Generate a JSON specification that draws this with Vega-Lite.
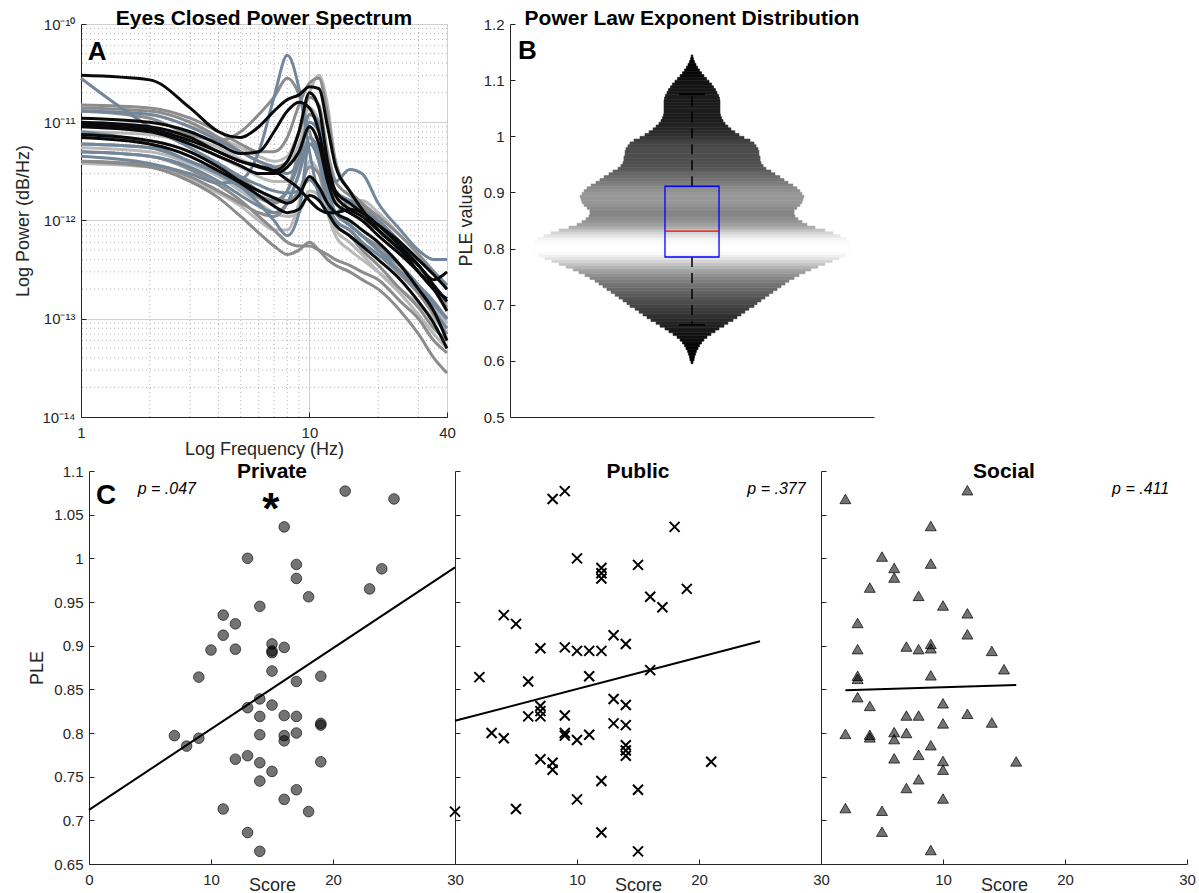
{
"$schema": "https://vega.github.io/schema/vega-lite/v6.json",
"padding": {"left": 13, "top": 7, "right": 0, "bottom": 0},
"spacing": 447,
"bounds": "flush",
"config": {
  "view": {"stroke": null},
  "font": "Liberation Sans",
  "axis": {"domainColor": "#262626", "tickColor": "#262626", "labelColor": "#262626", "titleColor": "#262626", "labelFontSize": 15, "titleFontSize": 18, "titleFontWeight": "normal", "labelFont": "Liberation Sans", "titleFont": "Liberation Sans", "grid": false, "tickSize": -5, "labelFlush": false},
  "axisX": {"labelPadding": 13},
  "axisY": {"labelPadding": 11},
  "text": {"font": "Liberation Sans", "color": "#000000"}
},
"datasets": {
  "minorF": [{"f":2},{"f":3},{"f":4},{"f":5},{"f":6},{"f":7},{"f":8},{"f":9},{"f":20},{"f":30}],
  "minorP": [{"p":2e-14},{"p":3e-14},{"p":4e-14},{"p":5e-14},{"p":6e-14},{"p":7e-14},{"p":8e-14},{"p":9e-14},
             {"p":2e-13},{"p":3e-13},{"p":4e-13},{"p":5e-13},{"p":6e-13},{"p":7e-13},{"p":8e-13},{"p":9e-13},
             {"p":2e-12},{"p":3e-12},{"p":4e-12},{"p":5e-12},{"p":6e-12},{"p":7e-12},{"p":8e-12},{"p":9e-12},
             {"p":2e-11},{"p":3e-11},{"p":4e-11},{"p":5e-11},{"p":6e-11},{"p":7e-11},{"p":8e-11},{"p":9e-11}],
  "spectra": [
    {"s":"l1","f":[1,2,3,4,5,6,7,8,9,10,11,12,13,15,17,20,25,30,35,40],"p":[9e-12,8e-12,6e-12,4.5e-12,3.5e-12,3e-12,3e-12,4e-12,8e-12,20e-12,30e-12,15e-12,4e-12,2e-12,1.4e-12,1e-12,0.6e-12,0.35e-12,0.2e-12,0.12e-12]},
    {"s":"l2","f":[1,2,3,4,5,6,7,8,9,10,11,12,13,15,17,20,25,30,35,40],"p":[13e-12,12e-12,9e-12,7e-12,5.5e-12,4.5e-12,4e-12,4.5e-12,8e-12,14e-12,10e-12,3e-12,1.8e-12,1.4e-12,1.2e-12,0.9e-12,0.5e-12,0.3e-12,0.2e-12,0.14e-12]},
    {"s":"l3","f":[1,2,3,4,5,6,7,8,9,10,11,12,13,15,17,20,25,30,35,40],"p":[5.5e-12,5e-12,3.8e-12,2.8e-12,2e-12,1.5e-12,1.2e-12,1.1e-12,1.2e-12,2e-12,1.8e-12,1.2e-12,0.8e-12,0.6e-12,0.45e-12,0.3e-12,0.18e-12,0.11e-12,0.07e-12,0.05e-12]},
    {"s":"l4","f":[1,2,3,4,5,6,7,8,9,10,11,12,13,15,17,20,25,30,35,40],"p":[3.8e-12,3.5e-12,2.6e-12,1.9e-12,1.4e-12,1e-12,0.8e-12,0.8e-12,1.5e-12,4e-12,3e-12,1.2e-12,0.7e-12,0.5e-12,0.4e-12,0.3e-12,0.2e-12,0.14e-12,0.1e-12,0.07e-12]},
    {"s":"l5","f":[1,2,3,4,5,6,7,8,9,10,11,12,13,15,17,20,25,30,35,40],"p":[10e-12,9e-12,7e-12,5.5e-12,4.2e-12,3.5e-12,3.2e-12,3.5e-12,6e-12,12e-12,9e-12,3e-12,1.6e-12,1.5e-12,1.6e-12,1.2e-12,0.7e-12,0.45e-12,0.3e-12,0.2e-12]},
    {"s":"l6","f":[1,2,3,4,5,6,7,8,9,10,11,12,13,15,17,20,25,30,35,40],"p":[8e-12,7.5e-12,6e-12,4.5e-12,3.5e-12,2.8e-12,2.5e-12,2.5e-12,3.5e-12,6e-12,5e-12,2.2e-12,1.2e-12,0.9e-12,0.7e-12,0.5e-12,0.32e-12,0.2e-12,0.13e-12,0.09e-12]},
    {"s":"g1","f":[1,2,3,4,5,6,7,8,9,10,11,12,13,15,17,20,25,30,35,40],"p":[13e-12,11e-12,7.5e-12,6.5e-12,8e-12,12e-12,18e-12,28e-12,19e-12,8e-12,4e-12,2e-12,1.5e-12,1.2e-12,1e-12,0.8e-12,0.5e-12,0.3e-12,0.2e-12,0.13e-12]},
    {"s":"g2","f":[1,2,3,4,5,6,7,8,9,10,11,12,13,15,17,20,25,30,35,40],"p":[4e-12,3.5e-12,2.5e-12,1.7e-12,1.1e-12,0.75e-12,0.55e-12,0.45e-12,0.5e-12,0.6e-12,0.5e-12,0.4e-12,0.35e-12,0.3e-12,0.25e-12,0.2e-12,0.12e-12,0.07e-12,0.04e-12,0.028e-12]},
    {"s":"g3","f":[1,2,3,4,5,6,7,8,9,10,11,12,13,15,17,20,25,30,35,40],"p":[5e-12,4.5e-12,3.3e-12,2.3e-12,1.6e-12,1.1e-12,0.8e-12,0.6e-12,0.55e-12,0.55e-12,0.5e-12,0.45e-12,0.4e-12,0.35e-12,0.3e-12,0.25e-12,0.15e-12,0.1e-12,0.06e-12,0.045e-12]},
    {"s":"g4","f":[1,2,3,4,5,6,7,8,9,10,11,12,13,15,17,20,25,30,35,40],"p":[14e-12,13e-12,10e-12,7e-12,5e-12,4e-12,3.5e-12,4e-12,8e-12,18e-12,15e-12,5e-12,2.5e-12,1.8e-12,1.4e-12,1e-12,0.6e-12,0.35e-12,0.22e-12,0.15e-12]},
    {"s":"g5","f":[1,2,3,4,5,6,7,8,9,10,11,12,13,15,17,20,25,30,35,40],"p":[4e-12,3.7e-12,2.8e-12,2e-12,1.5e-12,1.2e-12,1.1e-12,1.5e-12,3e-12,6e-12,4e-12,1.5e-12,0.9e-12,0.7e-12,0.5e-12,0.35e-12,0.2e-12,0.13e-12,0.08e-12,0.06e-12]},
    {"s":"g6","f":[1,2,3,4,5,6,7,8,9,10,11,12,13,15,17,20,25,30,35,40],"p":[6e-12,5.5e-12,4e-12,3e-12,2.2e-12,1.7e-12,1.5e-12,2e-12,5e-12,9e-12,6e-12,2e-12,1.2e-12,0.9e-12,0.7e-12,0.55e-12,0.35e-12,0.22e-12,0.14e-12,0.1e-12]},
    {"s":"g7","f":[1,2,3,4,5,6,7,8,9,10,11,12,13,15,17,20,25,30,35,40],"p":[15e-12,14e-12,11e-12,8e-12,6e-12,5e-12,5e-12,7e-12,15e-12,25e-12,28e-12,12e-12,4e-12,2e-12,1.5e-12,1.1e-12,0.7e-12,0.45e-12,0.3e-12,0.2e-12]},
    {"s":"g8","f":[1,2,3,4,5,6,7,8,9,10,11,12,13,15,17,20,25,30,35,40],"p":[7e-12,6.5e-12,5e-12,3.6e-12,2.7e-12,2e-12,1.7e-12,1.6e-12,2e-12,3.5e-12,3e-12,1.5e-12,1e-12,0.8e-12,0.6e-12,0.45e-12,0.28e-12,0.18e-12,0.11e-12,0.07e-12]},
    {"s":"b1","f":[1,2,3,4,5,6,7,8,9,10,11,12,13,15,17,20,25,30,35,40],"p":[28e-12,9e-12,5.5e-12,3.8e-12,2.8e-12,2.3e-12,2e-12,1.9e-12,2e-12,2.6e-12,2e-12,1.5e-12,1.2e-12,0.9e-12,0.7e-12,0.5e-12,0.35e-12,0.22e-12,0.15e-12,0.1e-12]},
    {"s":"b2","f":[1,2,3,4,5,6,7,8,9,10,11,12,13,15,17,20,25,30,35,40],"p":[4.5e-12,3.8e-12,3e-12,2.4e-12,2.6e-12,5e-12,18e-12,48e-12,22e-12,5e-12,1.8e-12,1.2e-12,1.2e-12,1.6e-12,1.3e-12,0.8e-12,0.5e-12,0.3e-12,0.2e-12,0.15e-12]},
    {"s":"b3","f":[1,2,3,4,5,6,7,8,9,10,11,12,13,15,17,20,25,30,35,40],"p":[8e-12,6e-12,4e-12,3e-12,2.2e-12,1.8e-12,1.6e-12,2e-12,4e-12,10e-12,8e-12,3.5e-12,2.5e-12,3.3e-12,3e-12,1.5e-12,0.8e-12,0.5e-12,0.4e-12,0.4e-12]},
    {"s":"b4","f":[1,2,3,4,5,6,7,8,9,10,11,12,13,15,17,20,25,30,35,40],"p":[6e-12,5.5e-12,4e-12,3e-12,2.2e-12,1.5e-12,1e-12,0.7e-12,1.2e-12,6e-12,4e-12,1.5e-12,1e-12,0.8e-12,0.6e-12,0.45e-12,0.3e-12,0.2e-12,0.12e-12,0.08e-12]},
    {"s":"b5","f":[1,2,3,4,5,6,7,8,9,10,11,12,13,15,17,20,25,30,35,40],"p":[13e-12,12e-12,9e-12,6.5e-12,5e-12,4e-12,3.5e-12,3e-12,4e-12,12e-12,10e-12,3e-12,2e-12,1.6e-12,1.3e-12,1e-12,0.6e-12,0.4e-12,0.3e-12,0.22e-12]},
    {"s":"b6","f":[1,2,3,4,5,6,7,8,9,10,11,12,13,15,17,20,25,30,35,40],"p":[5e-12,4.5e-12,3.5e-12,2.5e-12,1.8e-12,1.4e-12,1.2e-12,1.5e-12,3e-12,7e-12,5e-12,2e-12,1.2e-12,0.9e-12,0.7e-12,0.5e-12,0.3e-12,0.2e-12,0.14e-12,0.1e-12]},
    {"s":"k1","f":[1,2,3,4,5,6,7,8,9,10,11,12,13,15,17,20,25,30,35,40],"p":[30e-12,27e-12,14e-12,8e-12,7e-12,9e-12,13e-12,17e-12,19e-12,23e-12,22e-12,9e-12,3.6e-12,2e-12,1.3e-12,0.8e-12,0.5e-12,0.3e-12,0.2e-12,0.16e-12]},
    {"s":"k2","f":[1,2,3,4,5,6,7,8,9,10,11,12,13,15,17,20,25,30,35,40],"p":[9e-12,8e-12,6e-12,4.5e-12,3.6e-12,3e-12,3e-12,3.5e-12,5e-12,9e-12,6e-12,2.5e-12,1.5e-12,1.2e-12,1e-12,0.7e-12,0.45e-12,0.3e-12,0.2e-12,0.12e-12]},
    {"s":"k3","f":[1,2,3,4,5,6,7,8,9,10,11,12,13,15,17,20,25,30,35,40],"p":[7.5e-12,6.5e-12,5e-12,3.5e-12,2.5e-12,2e-12,1.7e-12,1.5e-12,1.8e-12,2.8e-12,2.2e-12,1.5e-12,1.2e-12,1e-12,0.8e-12,0.6e-12,0.35e-12,0.2e-12,0.12e-12,0.06e-12]},
    {"s":"k4","f":[1,2,3,4,5,6,7,8,9,10,11,12,13,15,17,20,25,30,35,40],"p":[11e-12,10e-12,8e-12,6e-12,4.8e-12,5e-12,8e-12,13e-12,16e-12,14e-12,8e-12,3e-12,1.8e-12,1.3e-12,1.1e-12,0.8e-12,0.5e-12,0.35e-12,0.25e-12,0.3e-12]},
    {"s":"k5","f":[1,2,3,4,5,6,7,8,9,10,11,12,13,15,17,20,25,30,35,40],"p":[9.5e-12,8.5e-12,6.5e-12,5e-12,4e-12,3.6e-12,3.2e-12,2.6e-12,2.1e-12,1.6e-12,1.3e-12,1.2e-12,1.2e-12,1.3e-12,1.2e-12,0.9e-12,0.55e-12,0.35e-12,0.22e-12,0.15e-12]},
    {"s":"k6","f":[1,2,3,4,5,6,7,8,9,10,11,12,13,15,17,20,25,30,35,40],"p":[7e-12,6e-12,4.5e-12,3.2e-12,2.4e-12,1.8e-12,1.4e-12,1.2e-12,1.3e-12,1.8e-12,1.6e-12,1.2e-12,0.9e-12,0.7e-12,0.55e-12,0.4e-12,0.25e-12,0.15e-12,0.09e-12,0.05e-12]},
    {"s":"k7","f":[1,2,3,4,5,6,7,8,9,10,11,12,13,15,17,20,25,30,35,40],"p":[10e-12,9e-12,7e-12,5e-12,4e-12,3.5e-12,3.2e-12,4e-12,8e-12,20e-12,14e-12,4e-12,2e-12,1.5e-12,1.2e-12,0.9e-12,0.6e-12,0.4e-12,0.28e-12,0.2e-12]}
  ],
  "violin": [
    {"a":0.595,"b":0.600,"lo":-0.006,"hi":0.006},{"a":0.600,"b":0.605,"lo":-0.013,"hi":0.013},{"a":0.605,"b":0.610,"lo":-0.016,"hi":0.016},{"a":0.610,"b":0.615,"lo":-0.022,"hi":0.022},
    {"a":0.615,"b":0.620,"lo":-0.028,"hi":0.028},{"a":0.620,"b":0.625,"lo":-0.038,"hi":0.038},{"a":0.625,"b":0.630,"lo":-0.047,"hi":0.047},{"a":0.630,"b":0.635,"lo":-0.060,"hi":0.060},
    {"a":0.635,"b":0.640,"lo":-0.075,"hi":0.075},{"a":0.640,"b":0.645,"lo":-0.094,"hi":0.094},{"a":0.645,"b":0.650,"lo":-0.119,"hi":0.119},{"a":0.650,"b":0.655,"lo":-0.145,"hi":0.145},
    {"a":0.655,"b":0.660,"lo":-0.170,"hi":0.170},{"a":0.660,"b":0.665,"lo":-0.201,"hi":0.201},{"a":0.665,"b":0.670,"lo":-0.226,"hi":0.226},{"a":0.670,"b":0.675,"lo":-0.258,"hi":0.258},
    {"a":0.675,"b":0.680,"lo":-0.283,"hi":0.283},{"a":0.680,"b":0.685,"lo":-0.308,"hi":0.308},{"a":0.685,"b":0.690,"lo":-0.333,"hi":0.333},{"a":0.690,"b":0.695,"lo":-0.358,"hi":0.358},
    {"a":0.695,"b":0.700,"lo":-0.390,"hi":0.390},{"a":0.700,"b":0.705,"lo":-0.409,"hi":0.409},{"a":0.705,"b":0.710,"lo":-0.434,"hi":0.434},{"a":0.710,"b":0.715,"lo":-0.459,"hi":0.459},
    {"a":0.715,"b":0.720,"lo":-0.484,"hi":0.484},{"a":0.720,"b":0.725,"lo":-0.509,"hi":0.509},{"a":0.725,"b":0.730,"lo":-0.535,"hi":0.535},{"a":0.730,"b":0.735,"lo":-0.560,"hi":0.560},
    {"a":0.735,"b":0.740,"lo":-0.585,"hi":0.585},{"a":0.740,"b":0.745,"lo":-0.610,"hi":0.610},{"a":0.745,"b":0.750,"lo":-0.642,"hi":0.642},{"a":0.750,"b":0.755,"lo":-0.673,"hi":0.673},
    {"a":0.755,"b":0.760,"lo":-0.711,"hi":0.711},{"a":0.760,"b":0.765,"lo":-0.748,"hi":0.748},{"a":0.765,"b":0.770,"lo":-0.792,"hi":0.792},{"a":0.770,"b":0.775,"lo":-0.836,"hi":0.836},
    {"a":0.775,"b":0.780,"lo":-0.881,"hi":0.881},{"a":0.780,"b":0.785,"lo":-0.925,"hi":0.925},{"a":0.785,"b":0.790,"lo":-0.962,"hi":0.962},{"a":0.790,"b":0.795,"lo":-0.987,"hi":0.987},
    {"a":0.795,"b":0.800,"lo":-1.0,"hi":1.0},{"a":0.800,"b":0.805,"lo":-1.0,"hi":1.0},{"a":0.805,"b":0.810,"lo":-0.994,"hi":0.994},{"a":0.810,"b":0.815,"lo":-0.987,"hi":0.987},
    {"a":0.815,"b":0.820,"lo":-0.969,"hi":0.969},{"a":0.820,"b":0.825,"lo":-0.931,"hi":0.931},{"a":0.825,"b":0.830,"lo":-0.887,"hi":0.887},{"a":0.830,"b":0.835,"lo":-0.836,"hi":0.836},
    {"a":0.835,"b":0.840,"lo":-0.774,"hi":0.774},{"a":0.840,"b":0.845,"lo":-0.723,"hi":0.723},{"a":0.845,"b":0.850,"lo":-0.692,"hi":0.692},{"a":0.850,"b":0.855,"lo":-0.667,"hi":0.667},
    {"a":0.855,"b":0.860,"lo":-0.648,"hi":0.648},{"a":0.860,"b":0.865,"lo":-0.642,"hi":0.642},{"a":0.865,"b":0.870,"lo":-0.642,"hi":0.642},{"a":0.870,"b":0.875,"lo":-0.660,"hi":0.660},
    {"a":0.875,"b":0.880,"lo":-0.679,"hi":0.679},{"a":0.880,"b":0.885,"lo":-0.692,"hi":0.692},{"a":0.885,"b":0.890,"lo":-0.698,"hi":0.698},{"a":0.890,"b":0.895,"lo":-0.704,"hi":0.704},
    {"a":0.895,"b":0.900,"lo":-0.692,"hi":0.692},{"a":0.900,"b":0.905,"lo":-0.679,"hi":0.679},{"a":0.905,"b":0.910,"lo":-0.660,"hi":0.660},{"a":0.910,"b":0.915,"lo":-0.635,"hi":0.635},
    {"a":0.915,"b":0.920,"lo":-0.604,"hi":0.604},{"a":0.920,"b":0.925,"lo":-0.579,"hi":0.579},{"a":0.925,"b":0.930,"lo":-0.553,"hi":0.553},{"a":0.930,"b":0.935,"lo":-0.522,"hi":0.522},
    {"a":0.935,"b":0.940,"lo":-0.497,"hi":0.497},{"a":0.940,"b":0.945,"lo":-0.465,"hi":0.465},{"a":0.945,"b":0.950,"lo":-0.447,"hi":0.447},{"a":0.950,"b":0.955,"lo":-0.434,"hi":0.434},
    {"a":0.955,"b":0.960,"lo":-0.428,"hi":0.428},{"a":0.960,"b":0.965,"lo":-0.428,"hi":0.428},{"a":0.965,"b":0.970,"lo":-0.421,"hi":0.421},{"a":0.970,"b":0.975,"lo":-0.421,"hi":0.421},
    {"a":0.975,"b":0.980,"lo":-0.415,"hi":0.415},{"a":0.980,"b":0.985,"lo":-0.403,"hi":0.403},{"a":0.985,"b":0.990,"lo":-0.390,"hi":0.390},{"a":0.990,"b":0.995,"lo":-0.365,"hi":0.365},
    {"a":0.995,"b":1.000,"lo":-0.327,"hi":0.327},{"a":1.000,"b":1.005,"lo":-0.296,"hi":0.296},{"a":1.005,"b":1.010,"lo":-0.270,"hi":0.270},{"a":1.010,"b":1.015,"lo":-0.245,"hi":0.245},
    {"a":1.015,"b":1.020,"lo":-0.226,"hi":0.226},{"a":1.020,"b":1.025,"lo":-0.208,"hi":0.208},{"a":1.025,"b":1.030,"lo":-0.195,"hi":0.195},{"a":1.030,"b":1.035,"lo":-0.186,"hi":0.186},
    {"a":1.035,"b":1.040,"lo":-0.179,"hi":0.179},{"a":1.040,"b":1.045,"lo":-0.176,"hi":0.176},{"a":1.045,"b":1.050,"lo":-0.176,"hi":0.176},{"a":1.050,"b":1.055,"lo":-0.176,"hi":0.176},
    {"a":1.055,"b":1.060,"lo":-0.176,"hi":0.176},{"a":1.060,"b":1.065,"lo":-0.176,"hi":0.176},{"a":1.065,"b":1.070,"lo":-0.173,"hi":0.173},{"a":1.070,"b":1.075,"lo":-0.167,"hi":0.167},
    {"a":1.075,"b":1.080,"lo":-0.157,"hi":0.157},{"a":1.080,"b":1.085,"lo":-0.148,"hi":0.148},{"a":1.085,"b":1.090,"lo":-0.135,"hi":0.135},{"a":1.090,"b":1.095,"lo":-0.123,"hi":0.123},
    {"a":1.095,"b":1.100,"lo":-0.107,"hi":0.107},{"a":1.100,"b":1.105,"lo":-0.091,"hi":0.091},{"a":1.105,"b":1.110,"lo":-0.075,"hi":0.075},{"a":1.110,"b":1.115,"lo":-0.060,"hi":0.060},
    {"a":1.115,"b":1.120,"lo":-0.047,"hi":0.047},{"a":1.120,"b":1.125,"lo":-0.035,"hi":0.035},{"a":1.125,"b":1.130,"lo":-0.025,"hi":0.025},{"a":1.130,"b":1.135,"lo":-0.016,"hi":0.016},
    {"a":1.135,"b":1.140,"lo":-0.009,"hi":0.009},{"a":1.140,"b":1.145,"lo":-0.005,"hi":0.005}
  ],
  "box": [{"q1":0.785,"q3":0.911,"med":0.831,"wlo":0.664,"whi":1.075}],
  "priv": [
    {"score":21,"ple":1.077},{"score":25,"ple":1.068},{"score":16,"ple":1.036},{"score":13,"ple":1.0},{"score":17,"ple":0.993},{"score":17,"ple":0.977},
    {"score":24,"ple":0.988},{"score":23,"ple":0.965},{"score":18,"ple":0.956},{"score":14,"ple":0.945},{"score":11,"ple":0.935},{"score":12,"ple":0.925},
    {"score":11,"ple":0.912},{"score":10,"ple":0.895},{"score":12,"ple":0.896},{"score":15,"ple":0.902},{"score":15,"ple":0.894},{"score":15,"ple":0.892},
    {"score":16,"ple":0.898},{"score":9,"ple":0.864},{"score":15,"ple":0.871},{"score":19,"ple":0.865},{"score":17,"ple":0.859},{"score":14,"ple":0.839},
    {"score":15,"ple":0.832},{"score":13,"ple":0.829},{"score":14,"ple":0.819},{"score":16,"ple":0.820},{"score":17,"ple":0.819},{"score":19,"ple":0.811},
    {"score":19,"ple":0.809},{"score":7,"ple":0.797},{"score":8,"ple":0.785},{"score":9,"ple":0.794},{"score":14,"ple":0.798},{"score":16,"ple":0.797},
    {"score":16,"ple":0.791},{"score":17,"ple":0.800},{"score":12,"ple":0.770},{"score":13,"ple":0.774},{"score":14,"ple":0.766},{"score":15,"ple":0.756},
    {"score":19,"ple":0.767},{"score":14,"ple":0.745},{"score":17,"ple":0.735},{"score":16,"ple":0.724},{"score":11,"ple":0.713},{"score":18,"ple":0.710},
    {"score":13,"ple":0.686},{"score":14,"ple":0.6645}
  ],
  "pub": [
    {"score":8,"ple":1.068},{"score":9,"ple":1.077},{"score":18,"ple":1.036},{"score":10,"ple":1.0},{"score":12,"ple":0.989},{"score":12,"ple":0.983},
    {"score":12,"ple":0.977},{"score":15,"ple":0.9925},{"score":19,"ple":0.965},{"score":16,"ple":0.956},{"score":17,"ple":0.944},{"score":4,"ple":0.935},
    {"score":5,"ple":0.925},{"score":13,"ple":0.912},{"score":7,"ple":0.897},{"score":9,"ple":0.898},{"score":10,"ple":0.894},{"score":11,"ple":0.894},
    {"score":12,"ple":0.894},{"score":14,"ple":0.902},{"score":2,"ple":0.864},{"score":6,"ple":0.859},{"score":11,"ple":0.865},{"score":16,"ple":0.872},
    {"score":7,"ple":0.831},{"score":7,"ple":0.825},{"score":7,"ple":0.819},{"score":6,"ple":0.819},{"score":9,"ple":0.820},{"score":13,"ple":0.839},
    {"score":14,"ple":0.832},{"score":13,"ple":0.811},{"score":14,"ple":0.809},{"score":3,"ple":0.800},{"score":4,"ple":0.794},{"score":9,"ple":0.800},
    {"score":9,"ple":0.797},{"score":10,"ple":0.792},{"score":11,"ple":0.798},{"score":14,"ple":0.786},{"score":14,"ple":0.780},{"score":14,"ple":0.774},
    {"score":7,"ple":0.770},{"score":8,"ple":0.766},{"score":8,"ple":0.758},{"score":21,"ple":0.767},{"score":12,"ple":0.745},{"score":15,"ple":0.735},
    {"score":10,"ple":0.724},{"score":5,"ple":0.713},{"score":0,"ple":0.710},{"score":12,"ple":0.686},{"score":15,"ple":0.6645}
  ],
  "soc": [
    {"score":2,"ple":1.068},{"score":12,"ple":1.078},{"score":9,"ple":1.037},{"score":5,"ple":1.002},{"score":9,"ple":0.994},{"score":6,"ple":0.989},
    {"score":6,"ple":0.978},{"score":4,"ple":0.9665},{"score":8,"ple":0.957},{"score":10,"ple":0.946},{"score":12,"ple":0.937},{"score":3,"ple":0.926},
    {"score":12,"ple":0.913},{"score":3,"ple":0.896},{"score":7,"ple":0.899},{"score":8,"ple":0.896},{"score":9,"ple":0.902},{"score":9,"ple":0.897},
    {"score":14,"ple":0.894},{"score":15,"ple":0.873},{"score":3,"ple":0.8655},{"score":3,"ple":0.862},{"score":9,"ple":0.866},{"score":3,"ple":0.841},
    {"score":4,"ple":0.831},{"score":10,"ple":0.834},{"score":7,"ple":0.820},{"score":8,"ple":0.820},{"score":12,"ple":0.822},{"score":10,"ple":0.811},
    {"score":14,"ple":0.812},{"score":2,"ple":0.799},{"score":4,"ple":0.798},{"score":4,"ple":0.795},{"score":6,"ple":0.801},{"score":6,"ple":0.793},
    {"score":7,"ple":0.800},{"score":9,"ple":0.786},{"score":6,"ple":0.771},{"score":8,"ple":0.775},{"score":10,"ple":0.768},{"score":10,"ple":0.758},
    {"score":16,"ple":0.7675},{"score":8,"ple":0.747},{"score":7,"ple":0.737},{"score":10,"ple":0.725},{"score":2,"ple":0.714},{"score":5,"ple":0.711},
    {"score":5,"ple":0.687},{"score":9,"ple":0.666}
  ],
  "privFit": [{"score":0,"ple":0.712},{"score":30,"ple":0.9897}],
  "pubFit": [{"score":0,"ple":0.814},{"score":25,"ple":0.905}],
  "socFit": [{"score":2,"ple":0.849},{"score":16,"ple":0.855}]
},
"vconcat": [
 {
  "hconcat": [
  {
    "width": 366, "height": 393,
    "view": {"stroke": "#d4d4d4"},
    "layer": [
      {"data": {"name": "minorF"}, "mark": {"type": "rule", "color": "#b5b5b5", "strokeDash": [1, 3], "strokeWidth": 1},
       "encoding": {"x": {"field": "f", "type": "quantitative", "scale": {"type": "log", "domain": [1, 40], "nice": false}}}},
      {"data": {"name": "minorP"}, "mark": {"type": "rule", "color": "#b5b5b5", "strokeDash": [1, 3], "strokeWidth": 1},
       "encoding": {"y": {"field": "p", "type": "quantitative", "scale": {"type": "log", "domain": [1e-14, 1e-10], "nice": false}}}},
      {"data": {"name": "spectra"}, "transform": [{"flatten": ["f", "p"]}],
       "mark": {"type": "line", "strokeWidth": 3, "interpolate": "monotone"},
       "encoding": {
         "x": {"field": "f", "type": "quantitative", "scale": {"type": "log", "domain": [1, 40], "nice": false},
               "axis": {"title": "Log Frequency (Hz)", "values": [1, 10, 40], "format": "d", "grid": true, "gridColor": "#d0d0d0", "titleX": 183, "titleY": 37, "titleBaseline": "alphabetic"}},
         "y": {"field": "p", "type": "quantitative", "scale": {"type": "log", "domain": [1e-14, 1e-10], "nice": false},
               "axis": {"title": "Log Power (dB/Hz)", "values": [1e-14, 1e-13, 1e-12, 1e-11, 1e-10], "grid": true, "gridColor": "#d0d0d0",
                        "labelExpr": "'10' + (round(log(datum.value)/LN10) == -10 ? '⁻¹⁰' : round(log(datum.value)/LN10) == -11 ? '⁻¹¹' : round(log(datum.value)/LN10) == -12 ? '⁻¹²' : round(log(datum.value)/LN10) == -13 ? '⁻¹³' : '⁻¹⁴')",
                        "titleX": -58, "titleY": 196.5, "titleBaseline": "middle"}},
         "color": {"field": "s", "type": "nominal", "legend": null,
                   "scale": {"domain": ["l1","l2","l3","l4","l5","l6","g1","g2","g3","g4","g5","g6","g7","g8","b1","b2","b3","b4","b5","b6","k1","k2","k3","k4","k5","k6","k7"],
                             "range": ["#b8b8b8","#b8b8b8","#b8b8b8","#b8b8b8","#b8b8b8","#b8b8b8","#8c8c8c","#8c8c8c","#8c8c8c","#8c8c8c","#8c8c8c","#8c8c8c","#8c8c8c","#8c8c8c","#72879b","#72879b","#72879b","#72879b","#72879b","#72879b","#0a0a0a","#0a0a0a","#0a0a0a","#0a0a0a","#0a0a0a","#0a0a0a","#0a0a0a"]}}
       }},
      {"data": {"values": [{"f": 6.325, "p": 1e-10, "t": "Eyes Closed Power Spectrum"}]},
       "mark": {"type": "text", "fontWeight": "bold", "fontSize": 21, "baseline": "alphabetic", "align": "center", "dy": 1},
       "encoding": {"x": {"field": "f", "type": "quantitative", "scale": {"type": "log", "domain": [1, 40], "nice": false}},
                    "y": {"field": "p", "type": "quantitative", "scale": {"type": "log", "domain": [1e-14, 1e-10], "nice": false}},
                    "text": {"field": "t"}}},
      {"data": {"values": [{"f": 1.07, "p": 4.3e-11, "t": "A"}]},
       "mark": {"type": "text", "fontWeight": "bold", "fontSize": 26, "baseline": "alphabetic", "align": "left"},
       "encoding": {"x": {"field": "f", "type": "quantitative", "scale": {"type": "log", "domain": [1, 40], "nice": false}},
                    "y": {"field": "p", "type": "quantitative", "scale": {"type": "log", "domain": [1e-14, 1e-10], "nice": false}},
                    "text": {"field": "t"}}}
    ]
  },
  {"width": 63, "height": 393, "data": {"values": []}, "mark": "point"},
  {
    "width": 364, "height": 393,
    "layer": [
      {"data": {"name": "violin"}, "mark": {"type": "rect", "strokeWidth": 0.6},
       "encoding": {
         "y": {"field": "a", "type": "quantitative", "scale": {"domain": [0.5, 1.2], "nice": false, "zero": false},
               "axis": {"title": "PLE values", "values": [0.5, 0.6, 0.7, 0.8, 0.9, 1.0, 1.1, 1.2], "format": "~g", "titleX": -44, "titleY": 196.5, "titleBaseline": "middle"}},
         "y2": {"field": "b"},
         "x": {"field": "lo", "type": "quantitative", "scale": {"domain": [-1.145, 1.145], "nice": false, "zero": false},
               "axis": {"title": null, "labels": false, "ticks": false, "domain": true}},
         "x2": {"field": "hi"},
         "fill": {"field": "hi", "type": "quantitative", "legend": null, "scale": {"type": "pow", "exponent": 1.3, "domain": [0, 1], "range": ["#000000", "#ffffff"]}},
         "stroke": {"field": "hi", "type": "quantitative", "legend": null, "scale": {"type": "pow", "exponent": 1.3, "domain": [0, 1], "range": ["#000000", "#ffffff"]}}
       }},
      {"data": {"name": "box"}, "mark": {"type": "rule", "color": "#000000", "strokeWidth": 1.5, "strokeDash": [10, 6]},
       "encoding": {"x": {"datum": 0, "type": "quantitative", "scale": {"domain": [-1.145, 1.145], "nice": false, "zero": false}},
                    "y": {"field": "q3", "type": "quantitative", "scale": {"domain": [0.5, 1.2], "nice": false, "zero": false}},
                    "y2": {"field": "whi"}}},
      {"data": {"name": "box"}, "mark": {"type": "rule", "color": "#000000", "strokeWidth": 1.5, "strokeDash": [10, 6]},
       "encoding": {"x": {"datum": 0, "type": "quantitative", "scale": {"domain": [-1.145, 1.145], "nice": false, "zero": false}},
                    "y": {"field": "q1", "type": "quantitative", "scale": {"domain": [0.5, 1.2], "nice": false, "zero": false}},
                    "y2": {"field": "wlo"}}},
      {"data": {"name": "box"}, "mark": {"type": "rule", "color": "#000000", "strokeWidth": 1.5},
       "encoding": {"x": {"datum": -0.082, "type": "quantitative", "scale": {"domain": [-1.145, 1.145], "nice": false, "zero": false}},
                    "x2": {"datum": 0.082},
                    "y": {"field": "whi", "type": "quantitative", "scale": {"domain": [0.5, 1.2], "nice": false, "zero": false}}}},
      {"data": {"name": "box"}, "mark": {"type": "rule", "color": "#000000", "strokeWidth": 1.5},
       "encoding": {"x": {"datum": -0.082, "type": "quantitative", "scale": {"domain": [-1.145, 1.145], "nice": false, "zero": false}},
                    "x2": {"datum": 0.082},
                    "y": {"field": "wlo", "type": "quantitative", "scale": {"domain": [0.5, 1.2], "nice": false, "zero": false}}}},
      {"data": {"name": "box"}, "mark": {"type": "rect", "fill": null, "fillOpacity": 0, "stroke": "#0000ff", "strokeWidth": 1.3},
       "encoding": {"x": {"datum": -0.17, "type": "quantitative", "scale": {"domain": [-1.145, 1.145], "nice": false, "zero": false}},
                    "x2": {"datum": 0.17},
                    "y": {"field": "q1", "type": "quantitative", "scale": {"domain": [0.5, 1.2], "nice": false, "zero": false}},
                    "y2": {"field": "q3"}}},
      {"data": {"name": "box"}, "mark": {"type": "rule", "color": "#ff0000", "strokeWidth": 1.3},
       "encoding": {"x": {"datum": -0.17, "type": "quantitative", "scale": {"domain": [-1.145, 1.145], "nice": false, "zero": false}},
                    "x2": {"datum": 0.17},
                    "y": {"field": "med", "type": "quantitative", "scale": {"domain": [0.5, 1.2], "nice": false, "zero": false}}}},
      {"data": {"values": [{"lo": 0, "a": 1.2, "t": "Power Law Exponent Distribution"}]},
       "mark": {"type": "text", "fontWeight": "bold", "fontSize": 21, "baseline": "alphabetic", "align": "center", "dy": 1},
       "encoding": {"x": {"field": "lo", "type": "quantitative", "scale": {"domain": [-1.145, 1.145], "nice": false, "zero": false}},
                    "y": {"field": "a", "type": "quantitative", "scale": {"domain": [0.5, 1.2], "nice": false, "zero": false}},
                    "text": {"field": "t"}}},
      {"data": {"values": [{"lo": -1.094, "a": 1.1377, "t": "B"}]},
       "mark": {"type": "text", "fontWeight": "bold", "fontSize": 26, "baseline": "alphabetic", "align": "left"},
       "encoding": {"x": {"field": "lo", "type": "quantitative", "scale": {"domain": [-1.145, 1.145], "nice": false, "zero": false}},
                    "y": {"field": "a", "type": "quantitative", "scale": {"domain": [0.5, 1.2], "nice": false, "zero": false}},
                    "text": {"field": "t"}}}
    ]
  }
  ],
  "spacing": 0,
  "bounds": "flush"
 },
 {
  "hconcat": [
  {"width": 8, "height": 393, "data": {"values": []}, "mark": "point"},
  {
    "width": 366, "height": 393,
    "layer": [
      {"data": {"name": "priv"}, "mark": {"type": "circle", "size": 113, "fill": "#000000", "fillOpacity": 0.55, "stroke": "#000000", "strokeOpacity": 0.6, "strokeWidth": 1},
       "encoding": {
         "x": {"field": "score", "type": "quantitative", "scale": {"domain": [0, 30], "nice": false, "zero": false},
               "axis": {"title": "Score", "values": [0, 10, 20, 30], "format": "d", "titleX": 183, "titleY": 26, "titleBaseline": "alphabetic"}},
         "y": {"field": "ple", "type": "quantitative", "scale": {"domain": [0.65, 1.1], "nice": false, "zero": false},
               "axis": {"title": "PLE", "values": [0.65, 0.7, 0.75, 0.8, 0.85, 0.9, 0.95, 1.0, 1.05, 1.1], "format": "~g", "titleX": -52, "titleY": 196.5, "titleBaseline": "middle"}}
       }},
      {"data": {"name": "privFit"}, "mark": {"type": "line", "color": "#000000", "strokeWidth": 2},
       "encoding": {"x": {"field": "score", "type": "quantitative", "scale": {"domain": [0, 30], "nice": false, "zero": false}},
                    "y": {"field": "ple", "type": "quantitative", "scale": {"domain": [0.65, 1.1], "nice": false, "zero": false}}}},
      {"data": {"values": [{"score": 15, "ple": 1.1, "t": "Private"}]},
       "mark": {"type": "text", "fontWeight": "bold", "fontSize": 21, "baseline": "alphabetic", "align": "center", "dy": 7},
       "encoding": {"x": {"field": "score", "type": "quantitative", "scale": {"domain": [0, 30], "nice": false, "zero": false}},
                    "y": {"field": "ple", "type": "quantitative", "scale": {"domain": [0.65, 1.1], "nice": false, "zero": false}},
                    "text": {"field": "t"}}},
      {"data": {"values": [{"score": 6.38, "ple": 1.079, "t": "p = .047"}]},
       "mark": {"type": "text", "fontStyle": "italic", "fontSize": 16, "baseline": "middle", "align": "center"},
       "encoding": {"x": {"field": "score", "type": "quantitative", "scale": {"domain": [0, 30], "nice": false, "zero": false}},
                    "y": {"field": "ple", "type": "quantitative", "scale": {"domain": [0.65, 1.1], "nice": false, "zero": false}},
                    "text": {"field": "t"}}},
      {"data": {"values": [{"score": 14.9, "ple": 1.0393, "t": "*"}]},
       "mark": {"type": "text", "fontWeight": "bold", "fontSize": 44, "baseline": "alphabetic", "align": "center"},
       "encoding": {"x": {"field": "score", "type": "quantitative", "scale": {"domain": [0, 30], "nice": false, "zero": false}},
                    "y": {"field": "ple", "type": "quantitative", "scale": {"domain": [0.65, 1.1], "nice": false, "zero": false}},
                    "text": {"field": "t"}}},
      {"data": {"values": [{"score": 0.57, "ple": 1.0622, "t": "C"}]},
       "mark": {"type": "text", "fontWeight": "bold", "fontSize": 28, "baseline": "alphabetic", "align": "left"},
       "encoding": {"x": {"field": "score", "type": "quantitative", "scale": {"domain": [0, 30], "nice": false, "zero": false}},
                    "y": {"field": "ple", "type": "quantitative", "scale": {"domain": [0.65, 1.1], "nice": false, "zero": false}},
                    "text": {"field": "t"}}}
    ]
  },
  {
    "width": 366, "height": 393,
    "layer": [
      {"data": {"name": "pub"}, "mark": {"type": "point", "shape": "M-1,-1L1,1M-1,1L1,-1", "size": 100, "filled": false, "stroke": "#000000", "strokeWidth": 2, "opacity": 1},
       "encoding": {
         "x": {"field": "score", "type": "quantitative", "scale": {"domain": [0, 30], "nice": false, "zero": false},
               "axis": {"title": "Score", "values": [0, 10, 20, 30], "format": "d", "labelExpr": "datum.value == 0 ? '' : datum.label", "titleX": 183, "titleY": 26, "titleBaseline": "alphabetic"}},
         "y": {"field": "ple", "type": "quantitative", "scale": {"domain": [0.65, 1.1], "nice": false, "zero": false},
               "axis": {"title": null, "labels": false, "values": [0.65, 0.7, 0.75, 0.8, 0.85, 0.9, 0.95, 1.0, 1.05, 1.1]}}
       }},
      {"data": {"name": "pubFit"}, "mark": {"type": "line", "color": "#000000", "strokeWidth": 2},
       "encoding": {"x": {"field": "score", "type": "quantitative", "scale": {"domain": [0, 30], "nice": false, "zero": false}},
                    "y": {"field": "ple", "type": "quantitative", "scale": {"domain": [0.65, 1.1], "nice": false, "zero": false}}}},
      {"data": {"values": [{"score": 15, "ple": 1.1, "t": "Public"}]},
       "mark": {"type": "text", "fontWeight": "bold", "fontSize": 21, "baseline": "alphabetic", "align": "center", "dy": 7},
       "encoding": {"x": {"field": "score", "type": "quantitative", "scale": {"domain": [0, 30], "nice": false, "zero": false}},
                    "y": {"field": "ple", "type": "quantitative", "scale": {"domain": [0.65, 1.1], "nice": false, "zero": false}},
                    "text": {"field": "t"}}},
      {"data": {"values": [{"score": 26.35, "ple": 1.079, "t": "p = .377"}]},
       "mark": {"type": "text", "fontStyle": "italic", "fontSize": 16, "baseline": "middle", "align": "center"},
       "encoding": {"x": {"field": "score", "type": "quantitative", "scale": {"domain": [0, 30], "nice": false, "zero": false}},
                    "y": {"field": "ple", "type": "quantitative", "scale": {"domain": [0.65, 1.1], "nice": false, "zero": false}},
                    "text": {"field": "t"}}}
    ]
  },
  {
    "width": 366, "height": 393,
    "layer": [
      {"data": {"name": "soc"}, "mark": {"type": "point", "shape": "triangle-up", "size": 120, "filled": true, "fill": "#000000", "fillOpacity": 0.55, "stroke": "#000000", "strokeOpacity": 0.7, "strokeWidth": 1},
       "encoding": {
         "x": {"field": "score", "type": "quantitative", "scale": {"domain": [0, 30], "nice": false, "zero": false},
               "axis": {"title": "Score", "values": [0, 10, 20, 30], "format": "d", "labelExpr": "datum.value == 0 ? '' : datum.label", "titleX": 183, "titleY": 26, "titleBaseline": "alphabetic"}},
         "y": {"field": "ple", "type": "quantitative", "scale": {"domain": [0.65, 1.1], "nice": false, "zero": false},
               "axis": {"title": null, "labels": false, "values": [0.65, 0.7, 0.75, 0.8, 0.85, 0.9, 0.95, 1.0, 1.05, 1.1]}}
       }},
      {"data": {"name": "socFit"}, "mark": {"type": "line", "color": "#000000", "strokeWidth": 2},
       "encoding": {"x": {"field": "score", "type": "quantitative", "scale": {"domain": [0, 30], "nice": false, "zero": false}},
                    "y": {"field": "ple", "type": "quantitative", "scale": {"domain": [0.65, 1.1], "nice": false, "zero": false}}}},
      {"data": {"values": [{"score": 15, "ple": 1.1, "t": "Social"}]},
       "mark": {"type": "text", "fontWeight": "bold", "fontSize": 21, "baseline": "alphabetic", "align": "center", "dy": 7},
       "encoding": {"x": {"field": "score", "type": "quantitative", "scale": {"domain": [0, 30], "nice": false, "zero": false}},
                    "y": {"field": "ple", "type": "quantitative", "scale": {"domain": [0.65, 1.1], "nice": false, "zero": false}},
                    "text": {"field": "t"}}},
      {"data": {"values": [{"score": 26.2, "ple": 1.079, "t": "p = .411"}]},
       "mark": {"type": "text", "fontStyle": "italic", "fontSize": 16, "baseline": "middle", "align": "center"},
       "encoding": {"x": {"field": "score", "type": "quantitative", "scale": {"domain": [0, 30], "nice": false, "zero": false}},
                    "y": {"field": "ple", "type": "quantitative", "scale": {"domain": [0.65, 1.1], "nice": false, "zero": false}},
                    "text": {"field": "t"}}}
    ]
  }
  ],
  "spacing": 0,
  "bounds": "flush"
 }
]
}
